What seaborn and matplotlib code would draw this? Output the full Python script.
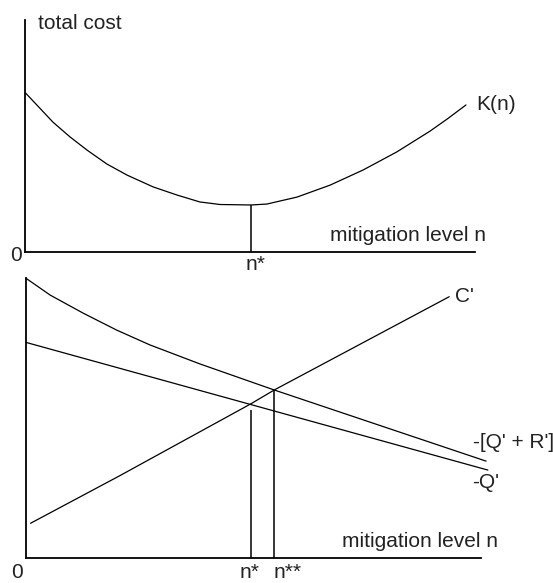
import numpy as np
import matplotlib
matplotlib.use("Agg")
import matplotlib.pyplot as plt
import seaborn as sns

sns.set_style("white")
plt.rcParams['font.family'] = ['Liberation Sans', 'DejaVu Sans']

# --- top panel: total cost K(n) ---
n_top = [0.0, 0.61, 0.99, 1.37, 1.81, 2.26, 2.84, 3.37, 3.88, 4.33, 5.02,
         5.37, 6.04, 6.78, 7.51, 8.26, 9.00, 9.38, 9.80]
k_cost = [6.85, 5.59, 4.95, 4.38, 3.78, 3.30, 2.79, 2.44, 2.14, 2.03, 2.01,
          2.05, 2.35, 2.87, 3.52, 4.30, 5.20, 5.72, 6.33]
n_star_top = 5.02
k_min = 2.01

# --- bottom panel: marginal curves ---
n_qr = [0.0, 0.53, 1.26, 1.99, 2.72, 3.82, 5.45, 10.10]
qr_val = [10.0, 9.40, 8.75, 8.15, 7.62, 6.94, 6.01, 3.47]
n_q = [0.0, 10.14]
q_val = [7.71, 3.15]
n_c = [0.10, 2.06, 4.93, 5.45, 9.29]
c_val = [1.25, 2.95, 5.51, 6.01, 9.34]
n_star = 4.93
n_star2 = 5.45
n_star_top_y = 5.30
n_star2_top_y = 6.01

fs = 15
fig = plt.figure(figsize=(5.53, 5.83), dpi=100)

ax1 = fig.add_axes([0.0461, 0.5686, 0.8128, 0.3971])
ax2 = fig.add_axes([0.0470, 0.0424, 0.8237 * 1.02, 0.4803])

for ax in (ax1, ax2):
    ax.set_xticks([])
    ax.set_yticks([])
    for s in ['top', 'right']:
        ax.spines[s].set_visible(False)
    for s in ['left', 'bottom']:
        ax.spines[s].set_color('black')
        ax.spines[s].set_linewidth(1.3)
    ax.patch.set_alpha(0)

# top panel
sns.lineplot(x=n_top, y=k_cost, ax=ax1, color='black', lw=0.9,
             estimator=None, sort=False)
ax1.vlines(n_star_top, 0, k_min, color='black', lw=1.1)
ax1.set_xlim(0, 10)
ax1.set_ylim(0, 10)
ax1.text(0.28, 9.87, "total cost", fontsize=fs, ha='left', va='center')
ax1.text(10.02, 6.33, "K(n)", fontsize=fs, ha='left', va='center')
ax1.text(10.24, 0.68, "mitigation level n", fontsize=fs, ha='right', va='center')
ax1.text(-0.08, -0.19, "0", fontsize=fs, ha='right', va='center')
ax1.text(5.11, -0.54, "n*", fontsize=fs, ha='center', va='center')

# bottom panel
sns.lineplot(x=n_qr, y=qr_val, ax=ax2, color='black', lw=0.9,
             estimator=None, sort=False)
sns.lineplot(x=n_q, y=q_val, ax=ax2, color='black', lw=0.9,
             estimator=None, sort=False)
sns.lineplot(x=n_c, y=c_val, ax=ax2, color='black', lw=0.9,
             estimator=None, sort=False)
ax2.vlines(n_star, 0, n_star_top_y, color='black', lw=1.1)
ax2.vlines(n_star2, 0, n_star2_top_y, color='black', lw=1.1)
ax2.set_xlim(0, 10.2)
ax2.set_ylim(0, 10)
ax2.spines['bottom'].set_bounds(0, 10)
ax2.text(9.42, 9.34, "C'", fontsize=fs, ha='left', va='center')
ax2.text(9.82, 4.15, "-[Q' + R']", fontsize=fs, ha='left', va='center')
ax2.text(9.79, 2.69, "-Q'", fontsize=fs, ha='left', va='center')
ax2.text(10.37, 0.59, "mitigation level n", fontsize=fs, ha='right', va='center')
ax2.text(-0.07, -0.52, "0", fontsize=fs, ha='right', va='center')
ax2.text(4.91, -0.50, "n*", fontsize=fs, ha='center', va='center')
ax2.text(5.43, -0.50, "n**", fontsize=fs, ha='left', va='center')

for ax in (ax1, ax2):
    for t in ax.texts:
        t.set_clip_on(False)
        t.set_color('#222222')
    for ln in ax.lines:
        ln.set_clip_on(False)

fig.savefig("out.png", dpi=100)
